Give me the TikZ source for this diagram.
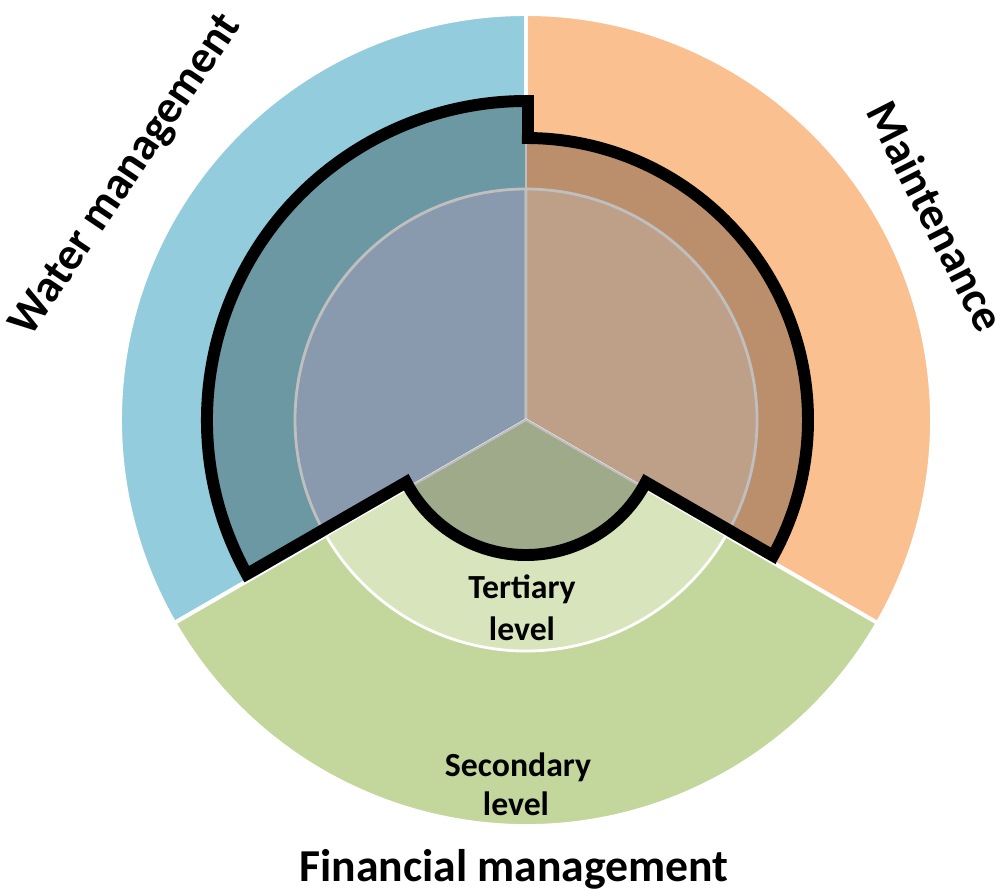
\documentclass[tikz,border=0pt]{standalone}
\usepackage{fontspec}
\setmainfont{Carlito}
\definecolor{oblue}{HTML}{93CDDD}
\definecolor{oorange}{HTML}{FAC090}
\definecolor{ogreen}{HTML}{C3D69B}
\definecolor{dblue}{HTML}{6B98A3}
\definecolor{dorange}{HTML}{BC8F6C}
\definecolor{iblue}{HTML}{8A9AAE}
\definecolor{iorange}{HTML}{BEA088}
\definecolor{lgreen}{HTML}{D8E4BC}
\definecolor{cgreen}{HTML}{9EAA8A}
\definecolor{sepgray}{HTML}{BFBFBF}
\newcommand{\mysector}[4]{\path[#1] (0,0) -- (#2:#4) arc[start angle=#2, end angle=#3, radius=#4] -- cycle;}
\begin{document}
\begin{tikzpicture}[x=0.025cm,y=0.025cm,
  outersec/.style={draw=white, line width=2.8pt, line join=round},
  innersec/.style={draw=sepgray, line width=2pt},
  lbl/.style={font=\bfseries\fontsize{32.5}{38}\selectfont, inner sep=0pt},
  lvl/.style={font=\bfseries\fontsize{24}{28}\selectfont, inner sep=0pt},
  hilite/.style={draw=black, line width=8.5pt, line join=miter, miter limit=10}]
\useasboundingbox[fill=white] (0,0) rectangle (1006,890);
\begin{scope}[shift={(526,470)}]
  % outer ring
  \mysector{fill=oblue, outersec}{90}{210}{406}
  \mysector{fill=oorange, outersec}{-30}{90}{406}
  \mysector{fill=ogreen, outersec}{210}{330}{406}
  % dark middle ring
  \mysector{fill=dblue}{90}{210}{319}
  \mysector{fill=dorange}{-30}{90}{282}
  \draw[sepgray, line width=1.5pt] (0,0) -- (90:282);
  % inner circle
  \mysector{fill=iblue, innersec}{90}{210}{231}
  \mysector{fill=iorange, innersec}{-30}{90}{231}
  \mysector{fill=lgreen, draw=white, line width=2pt}{210}{330}{231}
  % centre
  \mysector{fill=cgreen, draw=sepgray, line width=1.5pt}{210}{330}{135}
  % highlight outline
  \draw[hilite] (208.9:319) arc[start angle=208.9, end angle=89.64, radius=319]
     -- (89.6:282) arc[start angle=89.6, end angle=-28.78, radius=282]
     -- (-27.45:135) arc[start angle=-27.45, end angle=-152.55, radius=135]
     -- cycle;
\end{scope}
\node[lbl, rotate=56] (water) at (127,714) {Water management};
\node[lbl, rotate=-63] (maint) at (936,674) {Maintenance};
\node[lbl, anchor=base] (fin) at (514,9) {Financial management};
\node[lvl, anchor=base] (ter1) at (522,292) {Tertiary};
\node[lvl, anchor=base] (ter2) at (522,250) {level};
\node[lvl, anchor=base] (sec1) at (518,114) {Secondary};
\node[lvl, anchor=base] (sec2) at (516,75) {level};
\end{tikzpicture}
\end{document}
